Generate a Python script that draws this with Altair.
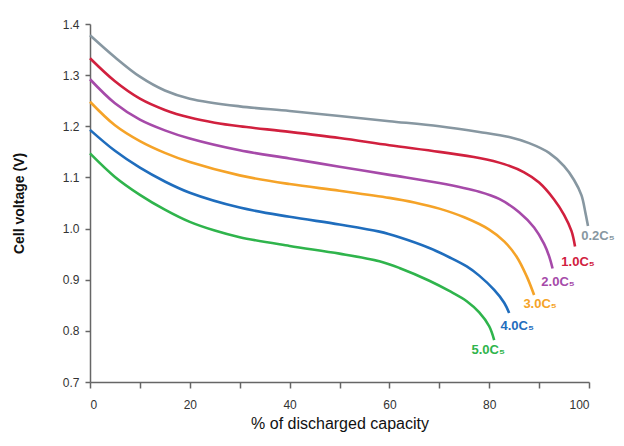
import altair as alt
import pandas as pd

series = ["0.2C₅", "1.0C₅", "2.0C₅", "3.0C₅", "4.0C₅", "5.0C₅"]
colors = ["#8797a1", "#d1203e", "#a64aa9", "#f5a328", "#1f6dbd", "#2fb44c"]

x_02 = [0, 5, 10, 15, 20, 30, 40, 50, 60, 70, 78, 84, 88, 92, 95, 97, 98.5, 99.3, 99.8]
v_02 = [1.378, 1.335, 1.297, 1.270, 1.254, 1.239, 1.230, 1.220, 1.210, 1.200, 1.189, 1.179, 1.167, 1.148, 1.122, 1.095, 1.065, 1.030, 1.005]

x_10 = [0, 5, 10, 15, 20, 25, 30, 40, 50, 60, 70, 78, 83, 87, 90, 93, 95, 96.5, 97.2]
v_10 = [1.333, 1.288, 1.254, 1.232, 1.217, 1.207, 1.200, 1.189, 1.177, 1.163, 1.150, 1.138, 1.126, 1.110, 1.090, 1.057, 1.027, 0.995, 0.965]

x_20 = [0, 5, 10, 15, 20, 30, 40, 50, 60, 70, 78, 82, 86, 89, 91, 92, 92.7]
v_20 = [1.292, 1.245, 1.213, 1.192, 1.176, 1.153, 1.137, 1.121, 1.105, 1.089, 1.072, 1.058, 1.032, 1.002, 0.970, 0.946, 0.922]

x_30 = [0, 5, 10, 15, 20, 30, 40, 50, 60, 65, 70, 75, 80, 83, 85.5, 87.5, 89]
v_30 = [1.248, 1.202, 1.171, 1.148, 1.130, 1.104, 1.087, 1.074, 1.060, 1.051, 1.039, 1.022, 0.998, 0.975, 0.945, 0.907, 0.870]

x_40 = [0, 5, 10, 15, 20, 30, 40, 50, 58, 62, 68, 72, 75.5, 78, 81, 83, 84]
v_40 = [1.193, 1.152, 1.119, 1.092, 1.070, 1.041, 1.023, 1.008, 0.994, 0.983, 0.962, 0.944, 0.926, 0.908, 0.880, 0.855, 0.835]

x_50 = [0, 5, 10, 15, 20, 25, 30, 40, 50, 58, 62, 68, 72, 75.5, 78, 80, 81]
v_50 = [1.147, 1.101, 1.066, 1.037, 1.013, 0.996, 0.983, 0.966, 0.951, 0.936, 0.923, 0.898, 0.878, 0.858, 0.836, 0.809, 0.782]

label_x = [101.8, 97.8, 93.8, 90.2, 85.6, 79.8]
label_y = [0.985, 0.935, 0.895, 0.852, 0.809, 0.763]

xs = [x_02, x_10, x_20, x_30, x_40, x_50]
vs = [v_02, v_10, v_20, v_30, v_40, v_50]

rows = []
for s, xx, vv in zip(series, xs, vs):
    for a, b in zip(xx, vv):
        rows.append({"rate": s, "x": a, "v": b})
df = pd.DataFrame(rows)
labels = pd.DataFrame({"rate": series, "x": label_x, "v": label_y})

color = alt.Color("rate:N", scale=alt.Scale(domain=series, range=colors), legend=None)

x_enc = alt.X(
    "x:Q",
    scale=alt.Scale(domain=[0, 100], nice=False),
    axis=alt.Axis(
        title="% of discharged capacity",
        values=list(range(0, 101, 10)),
        labelExpr="datum.value % 20 == 0 ? datum.label : ''",
        grid=False,
        tickSize=6,
        labelPadding=11,
        titlePadding=5,
        labelFontSize=12,
        titleFontSize=16,
        titleFontWeight="normal",
        titleColor="#111",
    ),
)
y_enc = alt.Y(
    "v:Q",
    scale=alt.Scale(domain=[0.7, 1.4], nice=False, zero=False),
    axis=alt.Axis(
        title="Cell voltage (V)",
        values=[0.7, 0.8, 0.9, 1.0, 1.1, 1.2, 1.3, 1.4],
        format=".1f",
        grid=False,
        tickSize=5,
        labelPadding=6,
        titlePadding=36,
        labelFontSize=12,
        titleFontSize=14,
        titleFontWeight="bold",
        titleColor="#111",
    ),
)

lines = alt.Chart(df).mark_line(strokeWidth=2.6, interpolate="catmull-rom").encode(
    x=x_enc, y=y_enc, color=color, detail="rate:N"
)

texts = alt.Chart(labels).mark_text(
    fontSize=13, fontWeight="bold", align="center", baseline="middle", font="Liberation Sans"
).encode(x="x:Q", y="v:Q", text="rate:N", color=color)

chart = (
    alt.layer(lines, texts)
    .properties(
        width=499,
        height=358,
        autosize=alt.AutoSizeParams(type="none"),
        padding={"left": 82, "top": 16, "right": 27, "bottom": 56},
    )
    .configure_view(stroke=None)
    .configure_axis(
        domainColor="#666",
        domainWidth=1.5,
        tickColor="#666",
        tickWidth=1.5,
        labelColor="#333",
        labelFont="Liberation Sans",
        titleFont="Liberation Sans",
    )
)

chart.save("out.html", embed_options={"renderer": "svg", "actions": False})
